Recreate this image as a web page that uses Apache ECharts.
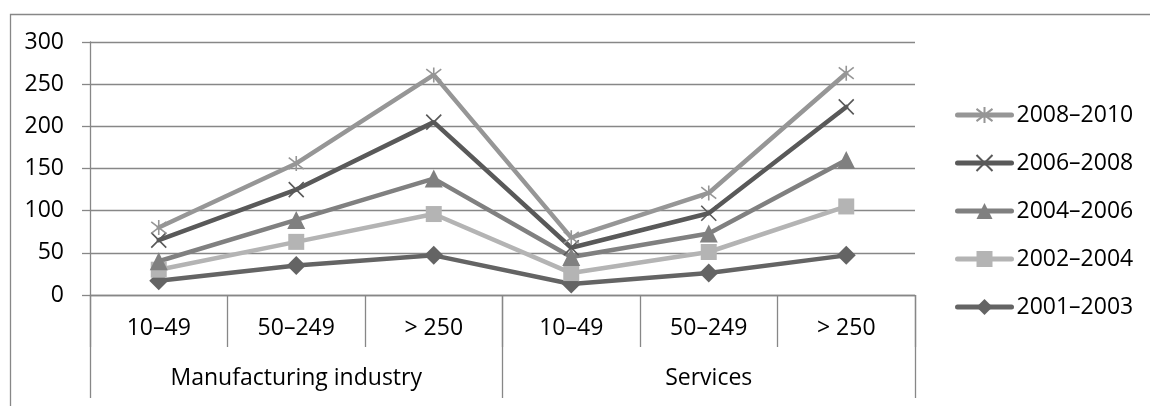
<!DOCTYPE html>
<html><head><meta charset="utf-8">
<script src="https://cdn.jsdelivr.net/npm/echarts@6/dist/echarts.min.js"></script>
<style>html,body{margin:0;padding:0;background:#fff;}#c{width:1150px;height:406px;}</style>
</head><body><div id="c"></div>
<script>
var categories = ['10–49', '50–249', '> 250', '10–49', '50–249', '> 250'];
var groups = ['Manufacturing industry', 'Services'];
var yTicks = [0, 50, 100, 150, 200, 250, 300];
var s2008 = [80, 156, 261, 68, 121, 263];
var s2006 = [65, 125, 205, 56, 97, 223];
var s2004 = [40, 89, 138, 45, 73, 160];
var s2002 = [30, 63, 96, 26, 51, 105];
var s2001 = [17, 35, 47, 13, 26, 47];
var names = ['2008–2010', '2006–2008', '2004–2006', '2002–2004', '2001–2003'];

var FONT = 'Open Sans';
var FS = 23;
var GRID = '#878787';
function mk(name, data, color, symbol, size, stroke) {
  return {
    name: name, type: 'line', data: data, xAxisIndex: 0,
    symbol: symbol, symbolSize: size,
    lineStyle: {color: color, width: 4.5, cap: 'round'},
    itemStyle: stroke ? {color: 'transparent', borderColor: color, borderWidth: 1.6} : {color: color},
    emphasis: {disabled: true}, animation: false
  };
}
var chart = echarts.init(document.getElementById('c'), null, {renderer: 'canvas'});
chart.setOption({
  animation: false,
  backgroundColor: '#fff',
  textStyle: {fontFamily: FONT},
  graphic: [{type: 'rect', left: 8, top: 12, shape: {width: 1300, height: 500}, style: {fill: 'none', stroke: GRID, lineWidth: 1.3}, silent: true}],
  grid: {left: 90, right: 235, top: 42, bottom: 111, containLabel: false},
  legend: {
    orient: 'vertical', left: 950, top: 96, itemWidth: 54, itemHeight: 20, itemGap: 20,
    data: names,
    lineStyle: {width: 5, cap: 'round'},
    textStyle: {fontFamily: FONT, fontSize: FS, lineHeight: 28, color: '#000'}
  },
  xAxis: [
    {type: 'category', data: categories, position: 'bottom', boundaryGap: true,
     axisLine: {show: true, lineStyle: {color: GRID, width: 1.3}},
     axisTick: {show: true, interval: 0, length: 52, lineStyle: {color: GRID, width: 1.3}},
     axisLabel: {interval: 0, margin: 22, fontSize: FS, color: '#000', fontFamily: FONT}},
    {type: 'category', data: groups, position: 'bottom', boundaryGap: true,
     axisLine: {show: false},
     axisTick: {show: true, interval: 0, length: 103, lineStyle: {color: GRID, width: 1.3}},
     axisLabel: {interval: 0, margin: 72, fontSize: FS, color: '#000', fontFamily: FONT}}
  ],
  yAxis: {type: 'value', min: yTicks[0], max: yTicks[yTicks.length - 1], interval: 50,
    axisLine: {show: true, lineStyle: {color: GRID, width: 1.3}},
    axisTick: {show: true, length: 8, lineStyle: {color: GRID, width: 1.3}},
    splitLine: {show: true, lineStyle: {color: GRID, width: 1.3}},
    axisLabel: {margin: 26, fontSize: FS, color: '#000', fontFamily: FONT}},
  series: [
    mk(names[4], s2001, '#646464', 'diamond', 19, false),
    mk(names[3], s2002, '#b4b4b4', 'rect', 16, false),
    mk(names[2], s2004, '#808080', 'triangle', 18, false),
    mk(names[1], s2006, '#595959', 'path://M0,0L10,10M10,0L0,10', 15, true),
    mk(names[0], s2008, '#969696', 'path://M0,0L10,10M10,0L0,10M5,-1.5L5,11.5', 15, true)
  ]
});
</script></body></html>
